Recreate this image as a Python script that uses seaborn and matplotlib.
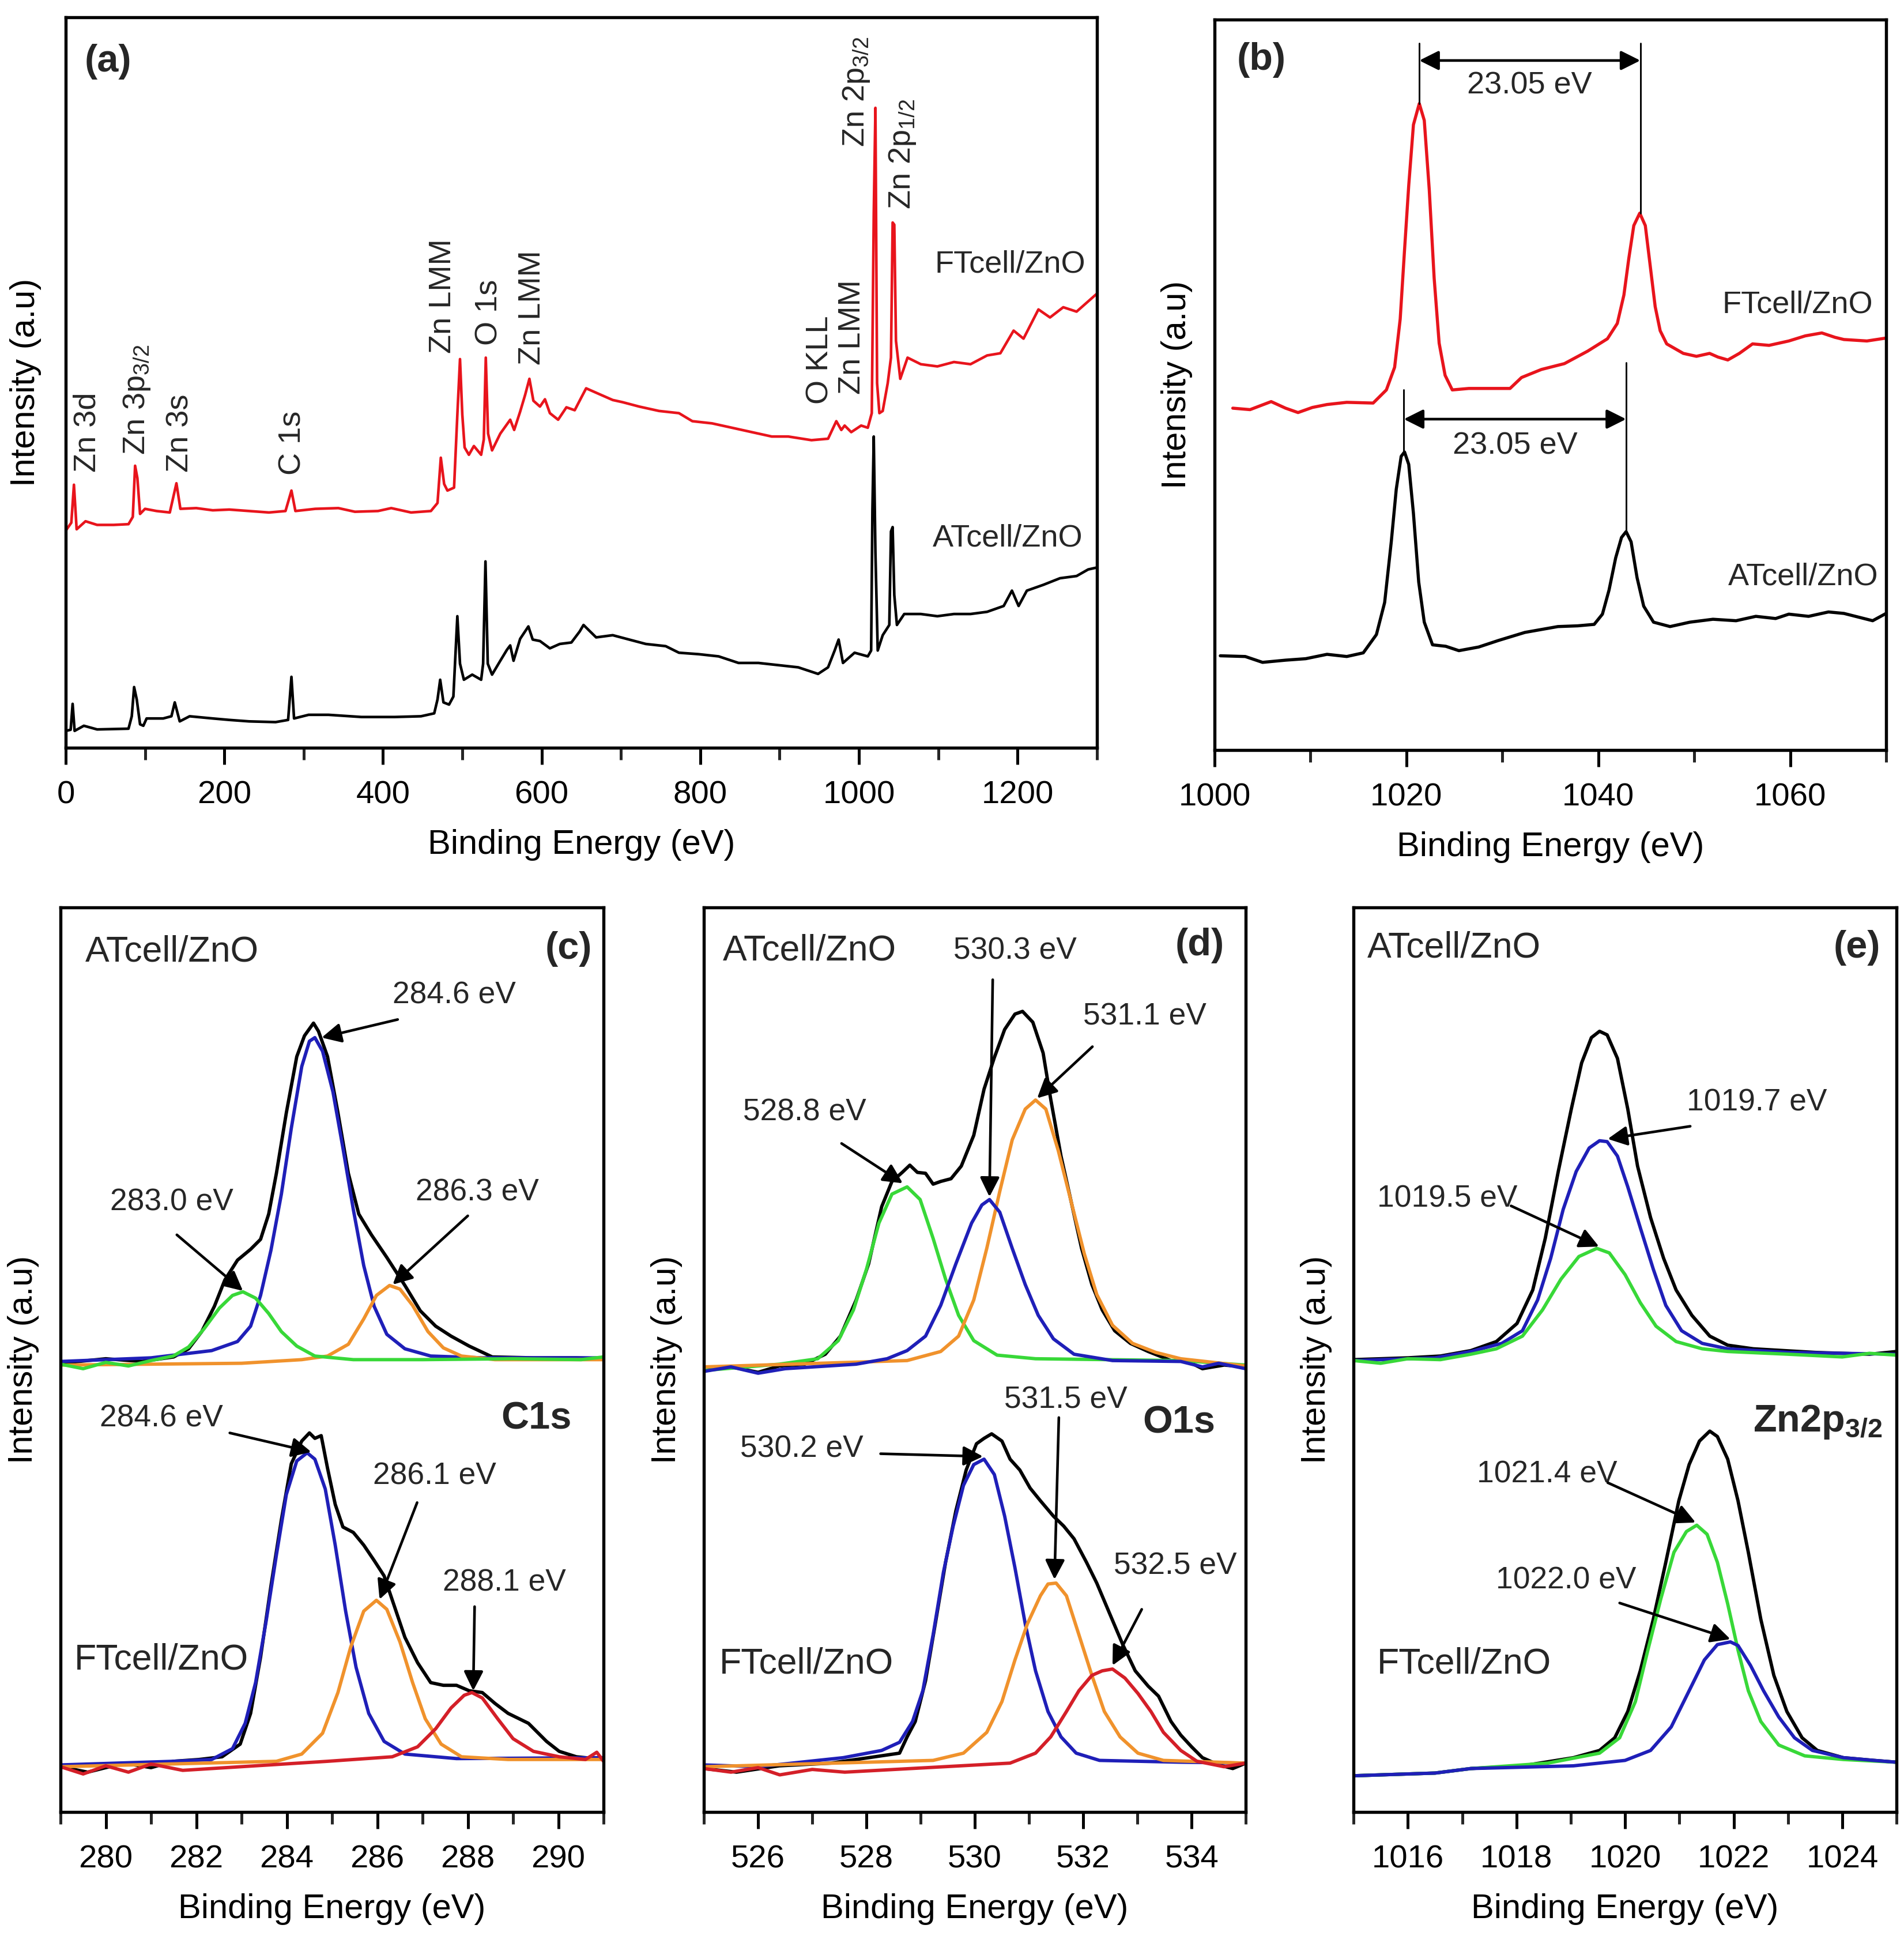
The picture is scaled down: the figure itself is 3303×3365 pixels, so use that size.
import matplotlib
matplotlib.use("Agg")
import matplotlib.pyplot as plt
from matplotlib.ticker import MultipleLocator
import seaborn as sns

# ---------------- (a) survey spectra ----------------
survey_ft_x = [0, 7.1, 10.4, 13.8, 25, 39.6, 60.4, 79.2, 84.6, 87.5,
               90.4, 93.75, 100, 114.6, 131.25, 139.6, 144.6, 164.6, 185.4, 206.25,
               231.25, 256.25, 277.1, 284.6, 289.6, 314.6, 343.75, 364.6, 393.75, 410.4,
               435.4, 460.4, 468.75, 472.9, 477.1, 481.25, 489.6, 493.75, 497.1, 500,
               502.9, 508.3, 514.6, 523.75, 527.1, 529.6, 532.5, 537.5, 547.9, 560.4,
               565.4, 572.9, 579.2, 584.6, 589.6, 597.9, 604.2, 610.4, 620.8, 631.25,
               641.7, 647.9, 656.1, 672.8, 689.6, 702.1, 723.0, 748.0, 773.1, 790.0,
               814.9, 840.0, 865.0, 890.1, 910.9, 940.2, 961.1, 971.5, 977.8, 982.0,
               990.3, 1002.8, 1011.2, 1016.2, 1018.7, 1020.8, 1022.9, 1025.8, 1030.0, 1036.3,
               1040.4, 1042.5, 1044.6, 1046.7, 1052.1, 1061.3, 1078.0, 1098.9, 1119.8, 1140.7,
               1161.6, 1178.3, 1195.0, 1207.5, 1226.3, 1240.9, 1257.6, 1274.4, 1286.9, 1299.4]
survey_ft_y = [29.7, 30.8, 36.0, 29.9, 31.0, 30.5, 30.5, 30.6, 31.6, 38.6,
               36.9, 32.0, 32.7, 32.4, 32.2, 36.2, 32.7, 32.8, 32.5, 32.6,
               32.4, 32.2, 32.4, 35.2, 32.4, 32.7, 32.8, 32.3, 32.4, 32.8,
               32.2, 32.4, 33.5, 39.7, 36.1, 35.2, 35.6, 45.6, 53.2, 45.6,
               41.1, 40.1, 41.3, 40.1, 42.2, 53.4, 43.0, 40.7, 43.0, 44.9,
               43.5, 46.0, 48.3, 50.5, 47.5, 46.7, 47.7, 45.8, 44.9, 46.6,
               46.2, 47.5, 49.2, 48.4, 47.6, 47.3, 46.7, 46.1, 45.8, 44.7,
               44.4, 43.8, 43.2, 42.6, 42.6, 42.1, 42.3, 44.7, 43.5, 44.1,
               43.2, 44.1, 43.8, 45.8, 73.1, 87.6, 49.9, 45.8, 46.1, 49.9,
               53.4, 71.9, 71.6, 55.7, 50.5, 53.4, 52.5, 52.2, 52.8, 52.5,
               53.7, 54.0, 57.1, 56.0, 60.0, 58.9, 60.3, 59.7, 60.9, 62.1]
survey_at_x = [0, 6.25, 8.75, 11.25, 22.9, 39.6, 79.2, 83.3, 86.25, 89.6,
               93.75, 97.9, 102, 122.9, 133.3, 137.5, 143.75, 156.25, 185.4, 206.25,
               231.25, 264.6, 280.4, 284.6, 287.9, 306.25, 331.25, 372.9, 414.6, 447.9,
               464.6, 468.75, 472.1, 476.25, 483.3, 488.75, 493.75, 497.1, 502, 512.5,
               523.75, 526.25, 529.2, 532.1, 537.5, 547.9, 556.25, 560.4, 564.6, 572.9,
               583.3, 588.75, 597.9, 610.4, 622.9, 637.5, 647.9, 652.8, 668.7, 689.6,
               710.4, 731.3, 756.4, 773.1, 798.1, 823.2, 848.2, 873.3, 898.4, 923.5,
               948.5, 961.1, 969.4, 974.4, 979.9, 994.5, 1011.2, 1015.4, 1017.0, 1018.7,
               1020.8, 1023.7, 1030.0, 1038.3, 1040.4, 1042.5, 1044.6, 1047.9, 1057.1, 1078.0,
               1098.9, 1119.8, 1140.7, 1161.6, 1182.5, 1192.9, 1201.3, 1211.7, 1232.6, 1253.5,
               1274.4, 1289.0, 1299.4]
survey_at_y = [2.3, 2.45, 6.0, 2.3, 3.0, 2.5, 2.6, 4.3, 8.3, 6.6,
               3.2, 3.0, 4.0, 4.0, 4.3, 6.2, 3.6, 4.3, 4.0, 3.8,
               3.6, 3.5, 3.8, 9.7, 4.0, 4.5, 4.5, 4.2, 4.2, 4.3,
               4.7, 6.6, 9.3, 6.2, 5.9, 7.0, 18.0, 11.5, 9.3, 10.0,
               9.3, 11.5, 25.5, 11.5, 10.0, 11.9, 13.4, 14.0, 11.9, 14.9,
               16.6, 14.8, 14.6, 13.6, 14.2, 14.4, 15.9, 16.8, 15.1, 15.4,
               14.8, 14.2, 13.9, 13.0, 12.8, 12.5, 11.6, 11.6, 11.3, 11.0,
               10.1, 11.0, 13.3, 14.8, 11.6, 13.0, 12.5, 13.3, 32.5, 42.6,
               26.7, 13.3, 15.4, 16.8, 29.6, 30.2, 20.9, 16.8, 18.3, 18.3,
               18.0, 18.3, 18.3, 18.6, 19.4, 21.5, 19.4, 21.5, 22.3, 23.2,
               23.5, 24.4, 24.65]
survey_labels = ["Zn 3d", "Zn 3p$_{3/2}$", "Zn 3s", "C 1s", "Zn LMM", "O 1s", "Zn LMM",
                 "O KLL", "Zn LMM", "Zn 2p$_{3/2}$", "Zn 2p$_{1/2}$"]
survey_label_x = [27, 90, 144, 286, 475, 534, 588, 951, 991, 997, 1055]
survey_label_y = [37.7, 40.1, 37.7, 37.3, 54.0, 55.1, 52.4, 47.0, 48.4, 82.2, 73.7]

# ---------------- (b) Zn 2p spectra ----------------
zn2p_ft_x = [1001.9, 1003.7, 1005.9, 1007.4, 1008.7, 1010.2, 1011.72, 1013.78, 1016.53, 1017.91,
             1018.77, 1019.35, 1019.8, 1020.24, 1020.73, 1021.34, 1021.86, 1022.38, 1022.89, 1023.41,
             1024.03, 1024.78, 1026.5, 1028.91, 1030.8, 1032.0, 1034.07, 1036.47, 1038.88, 1040.95,
             1041.98, 1042.67, 1043.18, 1043.7, 1044.32, 1044.9, 1045.42, 1045.93, 1046.45, 1047.13,
             1048.86, 1050.23, 1051.6, 1052.47, 1053.5, 1054.7, 1056.08, 1057.8, 1059.86, 1061.58,
             1063.3, 1064.67, 1065.6, 1068.0, 1070.0]
zn2p_ft_y = [46.8, 46.6, 47.7, 46.8, 46.2, 46.9, 47.3, 47.6, 47.5, 49.3,
             52.4, 59.0, 68.4, 77.3, 85.6, 88.5, 86.2, 76.7, 64.6, 55.7,
             51.3, 49.3, 49.5, 49.5, 49.5, 51.0, 52.1, 52.9, 54.6, 56.3,
             58.4, 62.3, 67.3, 71.8, 73.5, 71.8, 66.2, 60.7, 57.4, 55.6,
             54.3, 53.9, 54.3, 53.8, 53.4, 54.3, 55.6, 55.4, 56.0, 56.7,
             57.1, 56.5, 56.2, 56.0, 56.4]
zn2p_at_x = [1000.6, 1003.2, 1005.0, 1007.4, 1009.5, 1011.72, 1013.78, 1015.5, 1016.87, 1017.73,
             1018.42, 1018.94, 1019.45, 1019.8, 1020.24, 1020.73, 1021.28, 1021.86, 1022.72, 1024.1,
             1025.47, 1027.53, 1029.6, 1032.35, 1035.79, 1037.85, 1039.57, 1040.43, 1041.12, 1041.81,
             1042.42, 1042.9, 1043.42, 1044.04, 1044.73, 1045.76, 1047.48, 1049.54, 1051.95, 1054.36,
             1056.42, 1058.48, 1059.86, 1061.92, 1063.99, 1065.6, 1068.6, 1070.0]
zn2p_at_y = [12.9, 12.8, 12.0, 12.3, 12.5, 13.1, 12.8, 13.3, 15.8, 20.2,
             28.5, 35.7, 40.2, 40.8, 39.1, 32.4, 23.0, 17.5, 14.4, 14.2,
             13.6, 14.1, 15.0, 16.1, 16.9, 17.0, 17.2, 18.6, 21.9, 26.3,
             29.1, 29.9, 28.5, 23.6, 19.7, 17.5, 16.9, 17.5, 17.9, 17.7,
             18.3, 18.0, 18.6, 18.3, 18.9, 18.7, 17.7, 18.7]
split_ft = [1021.34, 1044.38]
split_at = [1019.73, 1042.9]
split_text = "23.05 eV"

# ---------------- (c) C1s ----------------
c_at_env_x = [279.0, 280.0, 280.8, 281.5, 281.83, 282.12, 282.4, 282.63, 282.91, 283.2, 283.42,
              283.6, 283.77, 283.99, 284.22, 284.39, 284.59, 284.7, 284.9, 285.13, 285.36, 285.59,
              285.87, 286.21, 286.61, 286.95, 287.29, 287.63, 288.03, 288.54, 289.45, 290.4, 291.0]
c_at_env_y = [49.6, 50.1, 49.8, 50.3, 51.2, 53.1, 55.9, 58.8, 61.0, 62.2, 63.3,
              66.1, 70.6, 77.3, 83.5, 85.8, 87.2, 86.3, 83.5, 77.3, 70.6, 66.1,
              63.8, 61.3, 58.2, 55.4, 53.7, 52.6, 51.5, 50.3, 50.2, 50.2, 50.1]
c_at_blue_x = [279.0, 281.0, 282.34, 282.91, 283.2, 283.42, 283.65, 283.88, 284.1, 284.33, 284.5,
               284.62, 284.79, 285.02, 285.24, 285.47, 285.7, 285.93, 286.21, 286.61, 287.18,
               288.32, 291.0]
c_at_blue_y = [49.8, 50.2, 51.0, 52.0, 53.7, 57.1, 62.1, 68.3, 75.6, 82.4, 85.2,
               85.6, 84.1, 79.6, 73.4, 66.6, 60.4, 55.9, 52.8, 51.2, 50.4,
               50.2, 50.2]
c_at_green_x = [279.0, 279.5, 280.0, 280.5, 281.0, 281.49, 281.83, 282.17, 282.51, 282.8, 283.03,
                283.31, 283.6, 283.88, 284.22, 284.62, 285.47, 287.0, 289.0, 290.5, 291.0]
c_at_green_y = [49.5, 49.0, 49.7, 49.3, 49.9, 50.4, 51.4, 53.4, 55.7, 57.1, 57.5,
                56.8, 55.1, 53.1, 51.5, 50.4, 50.0, 50.0, 50.1, 50.0, 50.3]
c_at_orange_x = [279.0, 283.0, 284.33, 284.9, 285.36, 285.7, 285.98, 286.27, 286.5, 286.78,
                 287.12, 287.46, 287.86, 288.6, 291.0]
c_at_orange_y = [49.4, 49.6, 50.0, 50.4, 51.7, 54.5, 57.1, 58.2, 57.8, 56.0,
                 53.1, 51.3, 50.4, 50.0, 50.0]

c_ft_env_x = [279.0, 279.6, 280.4, 281.0, 281.49, 282.06, 282.57, 282.97, 283.2, 283.42,
              283.65, 283.88, 284.1, 284.33, 284.5, 284.62, 284.76, 284.9, 285.07, 285.24,
              285.47, 285.7, 285.93, 286.15, 286.38, 286.61, 286.89, 287.18, 287.46, 287.75,
              288.03, 288.32, 288.6, 288.89, 289.34, 289.74, 290.02, 290.4, 291.0]
c_ft_env_y = [5.0, 4.4, 5.4, 4.9, 5.6, 5.8, 6.1, 7.5, 10.9, 17.1,
              25.0, 32.3, 38.5, 41.0, 41.9, 41.3, 41.6, 38.0, 34.0, 31.5,
              30.9, 29.5, 27.8, 26.1, 22.7, 19.3, 16.5, 14.3, 14.0, 14.0,
              13.4, 13.2, 12.0, 10.9, 9.8, 7.8, 6.7, 6.1, 5.8]
c_ft_blue_x = [279.0, 281.49, 282.34, 282.8, 283.08, 283.31, 283.54, 283.77, 283.99, 284.22,
               284.45, 284.62, 284.85, 285.07, 285.3, 285.53, 285.81, 286.15, 286.61, 287.75, 291.0]
c_ft_blue_y = [5.2, 5.6, 5.8, 7.0, 9.8, 14.3, 21.0, 28.4, 35.1, 38.8,
               39.7, 39.0, 35.7, 29.5, 22.2, 16.0, 10.9, 7.8, 6.4, 5.9, 6.0]
c_ft_orange_x = [279.0, 283.77, 284.33, 284.79, 285.13, 285.41, 285.7, 285.98, 286.21, 286.5,
                 286.78, 287.06, 287.41, 287.86, 288.89, 291.0]
c_ft_orange_y = [5.0, 5.6, 6.4, 8.7, 13.2, 18.2, 22.2, 23.4, 22.4, 18.8,
                 14.3, 10.3, 7.5, 6.1, 5.8, 5.8]
c_ft_red_x = [279.0, 279.5, 280.0, 280.5, 281.0, 281.7, 284.9, 286.33, 286.89, 287.29,
              287.63, 287.92, 288.09, 288.32, 288.66, 289.0, 289.45, 290.02, 290.6, 290.85, 291.0]
c_ft_red_y = [5.0, 4.2, 5.1, 4.4, 5.3, 4.6, 5.6, 6.1, 7.2, 9.2,
              11.5, 12.9, 13.2, 12.6, 10.3, 8.1, 6.7, 6.1, 5.8, 6.6, 5.6]

# ---------------- (d) O1s ----------------
o_at_env_x = [525.0, 525.5, 526.0, 526.39, 526.86, 527.24, 527.52, 527.81, 528.04, 528.28,
              528.47, 528.66, 528.8, 528.94, 529.09, 529.23, 529.37, 529.56, 529.75, 529.98,
              530.17, 530.36, 530.55, 530.74, 530.88, 531.07, 531.26, 531.4, 531.59, 531.78,
              531.97, 532.16, 532.35, 532.58, 532.87, 533.2, 533.62, 533.9, 534.2, 534.6, 535.0]
o_at_env_y = [48.8, 49.2, 48.6, 49.3, 49.5, 50.6, 52.6, 56.6, 60.6, 66.9,
              69.7, 70.7, 71.5, 70.7, 70.6, 69.4, 69.7, 70.0, 71.4, 74.8,
              79.9, 83.4, 86.5, 88.2, 88.5, 87.3, 83.9, 78.8, 72.5, 67.4,
              62.3, 58.3, 55.5, 53.2, 51.8, 50.9, 49.9, 49.9, 49.0, 49.4, 49.2]
o_at_green_x = [525.0, 526.39, 527.1, 527.48, 527.76, 528.0, 528.23, 528.47, 528.75, 528.99,
                529.23, 529.46, 529.7, 529.98, 530.41, 531.12, 533.8, 535.0]
o_at_green_y = [48.8, 49.5, 50.1, 52.1, 55.5, 60.0, 65.1, 68.3, 69.1, 67.7,
                63.4, 58.9, 54.9, 52.1, 50.5, 50.1, 49.9, 49.4]
o_at_blue_x = [525.0, 525.5, 526.0, 526.5, 527.81, 528.38, 528.75, 529.09, 529.37, 529.65,
               529.94, 530.13, 530.27, 530.46, 530.69, 530.93, 531.17, 531.45, 531.83, 532.54,
               533.8, 534.2, 534.5, 535.0]
o_at_blue_y = [48.7, 49.2, 48.5, 49.0, 49.5, 50.1, 51.0, 52.6, 56.0, 60.6,
               65.1, 67.1, 67.7, 66.3, 62.3, 58.3, 54.9, 52.3, 50.6, 49.9,
               49.8, 49.2, 49.6, 49.0]
o_at_orange_x = [525.0, 528.75, 529.37, 529.7, 529.98, 530.22, 530.46, 530.69, 530.93, 531.12,
                 531.31, 531.54, 531.78, 532.02, 532.25, 532.54, 532.91, 533.34, 533.8, 535.0]
o_at_orange_y = [49.2, 49.9, 50.9, 52.6, 56.6, 62.3, 68.6, 74.3, 77.7, 78.7,
                 77.7, 73.1, 67.4, 61.7, 57.2, 53.8, 51.8, 50.8, 50.1, 49.3]

o_ft_env_x = [525.0, 525.6, 526.39, 527.34, 528.04, 528.61, 528.75, 528.9, 529.09, 529.27,
              529.46, 529.65, 529.84, 530.03, 530.17, 530.31, 530.5, 530.65, 530.83, 531.02,
              531.21, 531.45, 531.64, 531.83, 532.06, 532.25, 532.49, 532.73, 532.96, 533.2,
              533.39, 533.62, 533.8, 534.0, 534.2, 534.5, 534.76, 535.0]
o_ft_env_y = [4.8, 4.4, 5.1, 5.4, 6.0, 6.5, 8.3, 10.0, 14.5, 20.8,
              27.6, 33.3, 37.8, 40.7, 41.3, 41.8, 41.0, 39.0, 37.8, 35.8,
              34.4, 32.7, 31.6, 30.2, 27.6, 25.3, 21.9, 18.5, 15.6, 13.9,
              12.8, 10.0, 8.5, 7.2, 6.0, 5.2, 4.8, 5.4]
o_ft_blue_x = [525.0, 526.0, 527.57, 528.28, 528.61, 528.85, 529.04, 529.23, 529.42, 529.6,
               529.79, 529.98, 530.17, 530.36, 530.55, 530.74, 530.93, 531.12, 531.35, 531.59,
               531.87, 532.3, 533.8, 535.0]
o_ft_blue_y = [5.2, 5.0, 6.0, 6.8, 7.7, 10.0, 13.4, 19.6, 26.5, 31.6,
               36.1, 38.4, 39.0, 37.3, 32.7, 27.0, 20.8, 15.6, 11.1, 8.3,
               6.5, 5.7, 5.5, 5.4]
o_ft_orange_x = [525.0, 529.23, 529.79, 530.22, 530.5, 530.74, 530.97, 531.21, 531.35, 531.5,
                 531.69, 531.92, 532.16, 532.39, 532.68, 533.01, 533.48, 535.0]
o_ft_orange_y = [5.0, 5.7, 6.5, 8.8, 12.2, 16.8, 20.8, 23.9, 25.2, 25.3,
                 23.9, 19.6, 15.1, 11.1, 8.3, 6.5, 5.7, 5.4]
o_ft_red_x = [525.0, 525.5, 526.0, 526.4, 527.0, 527.6, 530.65, 531.12, 531.4, 531.69,
              531.92, 532.16, 532.35, 532.54, 532.77, 533.01, 533.25, 533.48, 533.8, 534.1,
              534.6, 535.0]
o_ft_red_y = [4.8, 4.4, 4.9, 4.1, 4.7, 4.4, 5.4, 6.5, 8.3, 11.1,
              13.4, 15.1, 15.6, 15.8, 14.8, 13.1, 11.1, 8.8, 6.8, 5.6,
              5.0, 5.4]

# ---------------- (e) Zn2p3/2 ----------------
z_at_env_x = [1015.0, 1016.0, 1016.6, 1017.16, 1017.63, 1018.01, 1018.3, 1018.53, 1018.77, 1019.01,
              1019.2, 1019.38, 1019.53, 1019.67, 1019.86, 1020.05, 1020.23, 1020.47, 1020.71, 1020.94,
              1021.23, 1021.56, 1021.89, 1022.36, 1023.5, 1024.5, 1025.0]
z_at_env_y = [50.0, 50.2, 50.4, 51.0, 52.0, 54.0, 57.7, 63.4, 70.8, 77.7,
              82.8, 85.6, 86.3, 85.9, 83.3, 77.7, 71.4, 65.7, 61.2, 57.7,
              54.9, 52.6, 51.6, 51.2, 50.8, 50.6, 50.9]
z_at_blue_x = [1015.0, 1016.5, 1017.16, 1017.73, 1018.11, 1018.39, 1018.63, 1018.86, 1019.1, 1019.34,
               1019.53, 1019.67, 1019.86, 1020.05, 1020.28, 1020.52, 1020.75, 1021.04, 1021.42, 1021.89,
               1023.0, 1025.0]
z_at_blue_y = [49.9, 50.2, 50.9, 51.8, 53.2, 56.6, 61.2, 66.6, 70.8, 73.4,
               74.2, 74.1, 72.5, 69.1, 64.6, 60.0, 56.0, 53.2, 51.8, 51.2,
               50.8, 50.6]
z_at_green_x = [1015.0, 1015.5, 1016.0, 1016.6, 1017.16, 1017.63, 1018.11, 1018.48, 1018.82, 1019.15,
                1019.48, 1019.71, 1020.0, 1020.28, 1020.57, 1020.94, 1021.42, 1021.89, 1023.0, 1024.0,
                1024.5, 1025.0]
z_at_green_y = [49.9, 49.6, 50.1, 50.0, 50.6, 51.2, 52.6, 55.5, 58.9, 61.4,
                62.3, 61.8, 59.4, 56.3, 53.7, 52.0, 51.2, 50.9, 50.6, 50.3,
                50.7, 50.5]

z_ft_env_x = [1015.0, 1016.5, 1017.16, 1018.11, 1019.05, 1019.53, 1019.81, 1020.05, 1020.28, 1020.52,
              1020.75, 1020.99, 1021.18, 1021.37, 1021.56, 1021.7, 1021.89, 1022.08, 1022.27, 1022.5,
              1022.74, 1022.98, 1023.26, 1023.54, 1024.02, 1024.58, 1025.0]
z_ft_env_y = [4.0, 4.3, 4.8, 5.1, 6.0, 6.8, 8.2, 11.1, 15.6, 21.3,
              27.6, 34.4, 38.4, 41.0, 42.1, 41.5, 39.0, 34.4, 28.7, 21.3,
              15.1, 11.1, 8.2, 6.8, 6.0, 5.7, 5.5]
z_ft_green_x = [1015.0, 1016.5, 1017.16, 1018.58, 1019.53, 1019.9, 1020.19, 1020.42, 1020.66, 1020.9,
                1021.13, 1021.32, 1021.51, 1021.7, 1021.89, 1022.08, 1022.27, 1022.5, 1022.83, 1023.31,
                1024.02, 1025.0]
z_ft_green_y = [4.0, 4.3, 4.8, 5.4, 6.5, 8.2, 12.2, 17.9, 23.6, 28.7,
                31.0, 31.7, 30.7, 27.6, 23.0, 17.9, 13.4, 10.0, 7.4, 6.2,
                5.8, 5.5]
z_ft_blue_x = [1015.0, 1016.5, 1017.16, 1019.05, 1020.0, 1020.47, 1020.85, 1021.18, 1021.46, 1021.7,
               1021.94, 1022.08, 1022.31, 1022.55, 1022.83, 1023.12, 1023.45, 1024.02, 1024.58, 1025.0]
z_ft_blue_y = [4.0, 4.3, 4.8, 5.1, 5.7, 6.8, 9.4, 13.4, 16.8, 18.5,
               18.8, 18.4, 16.2, 13.4, 10.5, 8.2, 6.8, 6.0, 5.7, 5.5]

RED = "#e8141c"
BLUE = "#1f1fb8"
GREEN = "#38d838"
ORANGE = "#f0922c"
FITRED = "#d41f28"

sns.set_theme(style="ticks")
plt.rcParams["font.family"] = ["Liberation Sans", "DejaVu Sans"]
plt.rcParams["mathtext.default"] = "regular"
plt.rcParams["xtick.direction"] = "out"
plt.rcParams["axes.linewidth"] = 1.3
plt.rcParams["axes.edgecolor"] = "black"
plt.rcParams["lines.solid_joinstyle"] = "round"

TICK_FS = 13.5
LABEL_FS = 14.3
NOTE_FS = 12.8
SAMPLE_FS = 15
PANEL_FS = 16


def draw(ax, x, y, color, lw=1.4):
    sns.lineplot(x=x, y=y, color=color, lw=lw, ax=ax, estimator=None, sort=False)


def setup(ax, xlim, major, minor, ypad=7):
    ax.set_xlim(*xlim)
    ax.set_ylim(0, 100)
    ax.xaxis.set_major_locator(MultipleLocator(major))
    ax.xaxis.set_minor_locator(MultipleLocator(minor))
    ax.tick_params(axis="x", which="major", length=7, width=1.2, pad=6.5,
                   labelsize=TICK_FS, colors="black")
    ax.tick_params(axis="x", which="minor", length=5, width=1.2)
    ax.set_yticks([])
    ax.set_xlabel("Binding Energy (eV)", fontsize=LABEL_FS, color="black", labelpad=8)
    ax.set_ylabel("Intensity (a.u)", fontsize=LABEL_FS, color="black", labelpad=ypad)
    for s in ax.spines.values():
        s.set_visible(True)
        s.set_color("black")


def arrow(ax, tail, head, style="-|>"):
    ax.annotate("", xy=head, xytext=tail,
                arrowprops=dict(arrowstyle=style, color="black", lw=1.1, mutation_scale=17,
                                shrinkA=0, shrinkB=0))


fig = plt.figure(figsize=(3303 / 300, 3365 / 300), dpi=300)
fig.patch.set_facecolor("white")

# ---- (a) ----
ax = fig.add_axes([0.0345, 0.6146, 0.5416, 0.3765])
draw(ax, survey_at_x, survey_at_y, "black", 1.1)
draw(ax, survey_ft_x, survey_ft_y, RED, 1.1)
setup(ax, (0, 1300), 200, 100, ypad=10)
for lab, lx, ly in zip(survey_labels, survey_label_x, survey_label_y):
    ax.text(lx, ly, lab, rotation=90, ha="center", va="bottom", fontsize=13)
ax.text(1286, 66.2, "FTcell/ZnO", ha="right", va="center", fontsize=13)
ax.text(1282, 28.7, "ATcell/ZnO", ha="right", va="center", fontsize=13)
ax.text(24, 93.9, "(a)", ha="left", va="center", fontsize=PANEL_FS, fontweight="bold")

# ---- (b) ----
ax = fig.add_axes([0.6379, 0.6134, 0.3527, 0.3765])
draw(ax, zn2p_at_x, zn2p_at_y, "black", 1.3)
draw(ax, zn2p_ft_x, zn2p_ft_y, RED, 1.3)
setup(ax, (1000, 1070), 20, 10, ypad=9)
ax.plot([split_ft[0]] * 2, [88.5, 96.8], color="black", lw=0.7)
ax.plot([split_ft[1]] * 2, [73.5, 96.8], color="black", lw=0.7)
arrow(ax, (split_ft[0], 94.4), (split_ft[1], 94.4), "<|-|>")
ax.text(sum(split_ft) / 2, 91.0, split_text, ha="center", va="center", fontsize=13)
ax.plot([split_at[0]] * 2, [40.8, 49.3], color="black", lw=0.7)
ax.plot([split_at[1]] * 2, [29.9, 53.0], color="black", lw=0.7)
arrow(ax, (split_at[0], 45.3), (split_at[1], 45.3), "<|-|>")
ax.text(sum(split_at) / 2, 41.6, split_text, ha="center", va="center", fontsize=13)
ax.text(1068.6, 61.0, "FTcell/ZnO", ha="right", va="center", fontsize=13)
ax.text(1069.2, 23.7, "ATcell/ZnO", ha="right", va="center", fontsize=13)
ax.text(1002.3, 94.5, "(b)", ha="left", va="center", fontsize=PANEL_FS, fontweight="bold")

# ---- (c) ----
ax = fig.add_axes([0.0318, 0.066, 0.2852, 0.4663])
draw(ax, c_at_env_x, c_at_env_y, "black")
draw(ax, c_at_blue_x, c_at_blue_y, BLUE)
draw(ax, c_at_orange_x, c_at_orange_y, ORANGE)
draw(ax, c_at_green_x, c_at_green_y, GREEN)
draw(ax, c_ft_env_x, c_ft_env_y, "black")
draw(ax, c_ft_blue_x, c_ft_blue_y, BLUE)
draw(ax, c_ft_orange_x, c_ft_orange_y, ORANGE)
draw(ax, c_ft_red_x, c_ft_red_y, FITRED)
setup(ax, (279, 291), 2, 1, ypad=9)
ax.text(279.55, 95.1, "ATcell/ZnO", ha="left", va="center", fontsize=SAMPLE_FS)
ax.text(290.75, 95.4, "(c)", ha="right", va="center", fontsize=PANEL_FS, fontweight="bold")
ax.text(286.34, 90.3, "284.6 eV", ha="left", va="center", fontsize=NOTE_FS)
arrow(ax, (286.45, 87.6), (284.77, 85.6))
ax.text(280.1, 67.4, "283.0 eV", ha="left", va="center", fontsize=NOTE_FS)
arrow(ax, (281.57, 63.8), (283.03, 57.6))
ax.text(286.85, 68.5, "286.3 eV", ha="left", va="center", fontsize=NOTE_FS)
arrow(ax, (288.0, 65.9), (286.34, 58.3))
ax.text(290.3, 43.4, "C1s", ha="right", va="center", fontsize=PANEL_FS, fontweight="bold")
ax.text(279.87, 43.5, "284.6 eV", ha="left", va="center", fontsize=NOTE_FS)
arrow(ax, (282.74, 41.9), (284.54, 39.8))
ax.text(285.9, 37.1, "286.1 eV", ha="left", va="center", fontsize=NOTE_FS)
arrow(ax, (286.88, 34.2), (286.05, 23.5))
ax.text(287.45, 25.3, "288.1 eV", ha="left", va="center", fontsize=NOTE_FS)
arrow(ax, (288.15, 22.7), (288.12, 13.4))
ax.text(279.3, 16.8, "FTcell/ZnO", ha="left", va="center", fontsize=SAMPLE_FS)

# ---- (d) ----
ax = fig.add_axes([0.3697, 0.066, 0.2846, 0.4663])
draw(ax, o_at_env_x, o_at_env_y, "black")
draw(ax, o_at_green_x, o_at_green_y, GREEN)
draw(ax, o_at_orange_x, o_at_orange_y, ORANGE)
draw(ax, o_at_blue_x, o_at_blue_y, BLUE)
draw(ax, o_ft_env_x, o_ft_env_y, "black")
draw(ax, o_ft_blue_x, o_ft_blue_y, BLUE)
draw(ax, o_ft_orange_x, o_ft_orange_y, ORANGE)
draw(ax, o_ft_red_x, o_ft_red_y, FITRED)
setup(ax, (525, 535), 2, 1, ypad=9)
ax.text(525.35, 95.2, "ATcell/ZnO", ha="left", va="center", fontsize=SAMPLE_FS)
ax.text(534.6, 95.8, "(d)", ha="right", va="center", fontsize=PANEL_FS, fontweight="bold")
ax.text(529.6, 95.2, "530.3 eV", ha="left", va="center", fontsize=NOTE_FS)
arrow(ax, (530.33, 92.0), (530.27, 68.0))
ax.text(532.0, 87.9, "531.1 eV", ha="left", va="center", fontsize=NOTE_FS)
arrow(ax, (532.17, 84.6), (531.15, 78.9))
ax.text(525.72, 77.3, "528.8 eV", ha="left", va="center", fontsize=NOTE_FS)
arrow(ax, (527.54, 73.9), (528.67, 69.5))
ax.text(534.44, 43.0, "O1s", ha="right", va="center", fontsize=PANEL_FS, fontweight="bold")
ax.text(530.54, 45.5, "531.5 eV", ha="left", va="center", fontsize=NOTE_FS)
arrow(ax, (531.55, 43.6), (531.47, 25.7))
ax.text(525.67, 40.1, "530.2 eV", ha="left", va="center", fontsize=NOTE_FS)
arrow(ax, (528.26, 39.6), (530.15, 39.3))
ax.text(532.56, 27.2, "532.5 eV", ha="left", va="center", fontsize=NOTE_FS)
arrow(ax, (533.08, 22.4), (532.54, 16.2))
ax.text(525.28, 16.4, "FTcell/ZnO", ha="left", va="center", fontsize=SAMPLE_FS)

# ---- (e) ----
ax = fig.add_axes([0.7109, 0.066, 0.2852, 0.4663])
draw(ax, z_at_env_x, z_at_env_y, "black")
draw(ax, z_at_blue_x, z_at_blue_y, BLUE)
draw(ax, z_at_green_x, z_at_green_y, GREEN)
draw(ax, z_ft_env_x, z_ft_env_y, "black")
draw(ax, z_ft_green_x, z_ft_green_y, GREEN)
draw(ax, z_ft_blue_x, z_ft_blue_y, BLUE)
setup(ax, (1015, 1025), 2, 1, ypad=9)
ax.text(1015.25, 95.5, "ATcell/ZnO", ha="left", va="center", fontsize=SAMPLE_FS)
ax.text(1024.7, 95.5, "(e)", ha="right", va="center", fontsize=PANEL_FS, fontweight="bold")
ax.text(1021.13, 78.4, "1019.7 eV", ha="left", va="center", fontsize=NOTE_FS)
arrow(ax, (1021.2, 75.8), (1019.68, 74.4))
ax.text(1015.43, 67.8, "1019.5 eV", ha="left", va="center", fontsize=NOTE_FS)
arrow(ax, (1017.9, 67.0), (1019.52, 62.5))
ax.text(1024.74, 43.1, "Zn2p$_{3/2}$", ha="right", va="center", fontsize=PANEL_FS, fontweight="bold")
ax.text(1017.27, 37.3, "1021.4 eV", ha="left", va="center", fontsize=NOTE_FS)
arrow(ax, (1019.68, 36.4), (1021.3, 32.0))
ax.text(1017.62, 25.6, "1022.0 eV", ha="left", va="center", fontsize=NOTE_FS)
arrow(ax, (1019.9, 23.1), (1021.94, 19.1))
ax.text(1015.43, 16.4, "FTcell/ZnO", ha="left", va="center", fontsize=SAMPLE_FS)

fig.savefig("out.png", dpi=300, facecolor="white")
